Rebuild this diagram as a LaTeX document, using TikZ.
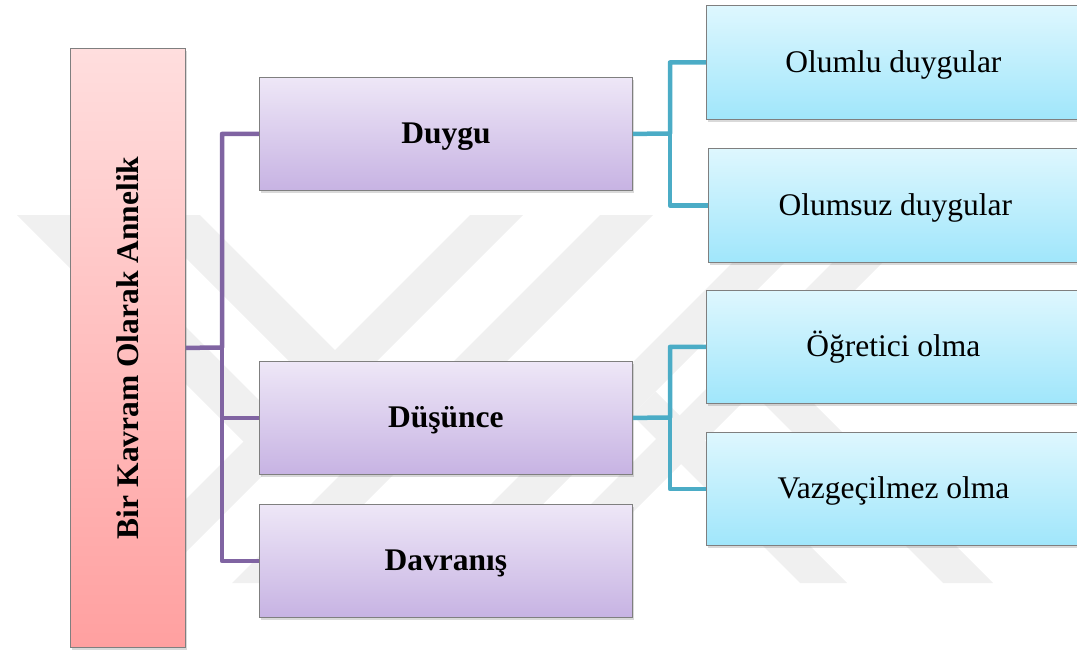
\documentclass[tikz,border=0pt]{standalone}
\usepackage{fontspec}
\setmainfont{Liberation Serif}
\usetikzlibrary{shadows}
\definecolor{wm}{HTML}{F0F0F0}
\definecolor{boxborder}{HTML}{7F7F7F}
\definecolor{pinkT}{HTML}{FFDEDE}
\definecolor{pinkB}{HTML}{FFA0A0}
\definecolor{purT}{HTML}{EEE7F7}
\definecolor{purB}{HTML}{C7B3E3}
\definecolor{bluT}{HTML}{DEF7FE}
\definecolor{bluB}{HTML}{A0E6FB}
\definecolor{purL}{HTML}{8064A2}
\definecolor{bluL}{HTML}{4BACC6}
\begin{document}
\begin{tikzpicture}[x=1pt,y=-1pt,
  box/.style={draw=boxborder, line width=0.8pt, inner sep=0pt,
    drop shadow={shadow xshift=1.5pt, shadow yshift=-2.5pt, opacity=0.3}},
  rootbox/.style={box, top color=pinkT, bottom color=pinkB,
    minimum width=115pt, minimum height=599pt, anchor=north west},
  midbox/.style={box, top color=purT, bottom color=purB,
    minimum width=373pt, minimum height=113pt, anchor=north west,
    text height=24pt, text depth=4pt,
    font=\bfseries\fontsize{31.5}{36}\selectfont},
  leafbox/.style={box, top color=bluT, bottom color=bluB,
    minimum width=374pt, minimum height=114pt, anchor=north west,
    text height=24pt, text depth=4pt,
    font=\fontsize{31.5}{36}\selectfont},
  pline/.style={line width=4.5pt, draw=purL, line join=round},
  bline/.style={line width=4.5pt, draw=bluL, line join=round},
  wmark/.style={fill=wm, draw=none}]
\useasboundingbox (0,0) rectangle (1077,651);
\clip (0,0) rectangle (1077,651);
% watermark
\fill[wmark] (470,215) -- (523,215) -- (155,583) -- (102,583) -- cycle;
\fill[wmark] (600,215) -- (653,215) -- (285,583) -- (232,583) -- cycle;
\fill[wmark] (780,215) -- (832,215) -- (464,583) -- (412,583) -- cycle;
\fill[wmark] (880,215) -- (930,215) -- (562,583) -- (512,583) -- cycle;
\fill[wmark] (17,215) -- (74,215) -- (298.5,439.5) -- (270,468) -- cycle;
\fill[wmark] (143,215) -- (200,215) -- (361.5,376.5) -- (333,405) -- cycle;
\fill[wmark] (655.5,391.5) -- (632,415) -- (800,583) -- (847,583) -- cycle;
\fill[wmark] (777.5,367.5) -- (752.5,392.5) -- (943,583) -- (993,583) -- cycle;
% root
\node[rootbox] (root) at (70,48) {};
\node[rotate=90, font=\bfseries\fontsize{31.5}{36}\selectfont] (roottext) at (root.center) {Bir Kavram Olarak Annelik};
% middle boxes
\node[midbox] (duygu) at (259,77) {Duygu};
\node[midbox] (dusunce) at (259,361) {Düşünce};
\node[midbox] (davranis) at (259,504) {Davranış};
% leaf boxes
\node[leafbox] (olumlu) at (706,5) {Olumlu duygular};
\node[leafbox] (olumsuz) at (708,148) {Olumsuz duygular};
\node[leafbox, minimum height=113pt] (ogretici) at (706,290) {Öğretici olma};
\node[leafbox, minimum height=113pt] (vazgec) at (706,432) {Vazgeçilmez olma};
% connectors
\coordinate (pj) at (222,347.5);
\coordinate (bj1) at (670,133.5);
\coordinate (bj2) at (670,417.5);
\draw[pline] (root.east) -- (pj) |- (duygu.west);
\draw[pline] (pj) |- (dusunce.west);
\draw[pline] (pj) |- (davranis.west);
\draw[bline] (duygu.east) -- (bj1) |- (olumlu.west);
\draw[bline] (bj1) |- (olumsuz.west);
\draw[bline] (dusunce.east) -- (bj2) |- (ogretici.west);
\draw[bline] (bj2) |- (vazgec.west);
\end{tikzpicture}
\end{document}
